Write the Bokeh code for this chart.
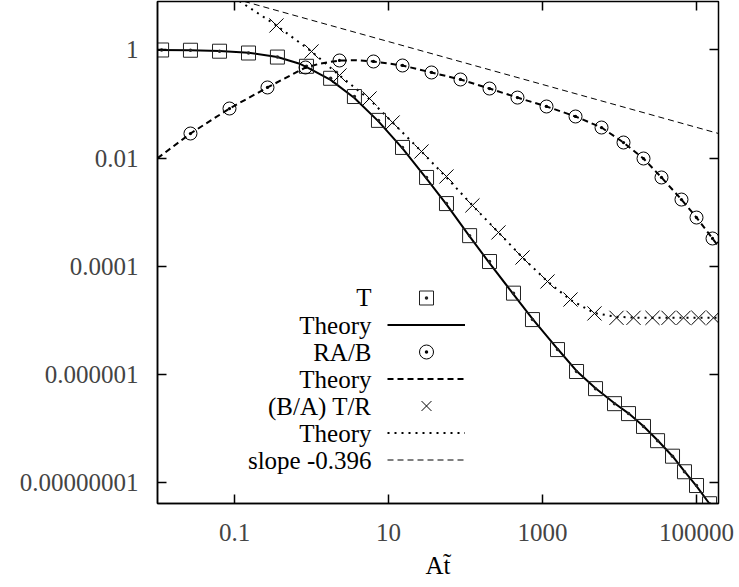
from bokeh.plotting import figure
from bokeh.models import FixedTicker, LogAxis, Legend, LegendItem, Label, Range1d, CustomJSTickFormatter
from bokeh.embed import file_html
from bokeh.resources import INLINE

# ---- data ----
t_x = [0.0113, 0.0268, 0.0639, 0.152, 0.361, 0.861, 1.77, 3.61, 7.41, 15.2, 31.2, 56.6, 113, 205, 420,
       741, 1566, 2766, 4880, 8610, 13090, 20500, 31200, 48800, 69800, 100000, 147600]
t_y = [1.0, 0.99, 0.95, 0.88, 0.74, 0.50, 0.30, 0.138, 0.050, 0.0158, 0.0044, 0.00145, 3.7e-4, 1.23e-4, 3.2e-5,
       1.04e-5, 2.9e-6, 1.14e-6, 5.5e-7, 2.9e-7, 1.9e-7, 1.1e-7, 6.0e-8, 3.1e-8, 1.6e-8, 8.9e-9, 4.1e-9]

t_theory_x = [0.01, 0.0268, 0.0639, 0.152, 0.361, 0.72, 0.97, 1.77, 3.61, 7.41, 15.2, 31.2, 56.6, 113, 205,
              420, 741, 1566, 2766, 4880, 8610, 13090, 20500, 31200, 48800, 69800, 100000, 147600, 171000]
t_theory_y = [1.0, 0.99, 0.96, 0.89, 0.74, 0.55, 0.445, 0.28, 0.13, 0.048, 0.0152, 0.0042, 0.0014, 3.6e-4,
              1.15e-4, 3.05e-5, 1.07e-5, 3.0e-6, 1.17e-6, 5.6e-7, 2.95e-7, 1.92e-7, 1.11e-7, 6.1e-8, 3.1e-8,
              1.62e-8, 8.7e-9, 4.1e-9, 2.95e-9]

rab_x = [0.0268, 0.0861, 0.268, 0.836, 2.31, 6.38, 15.2, 36.2, 86.0, 205, 473, 1127, 2684, 5840, 11270,
         20500, 35100, 63800, 100000, 161400]
rab_y = [0.0286, 0.0829, 0.203, 0.475, 0.640, 0.613, 0.517, 0.384, 0.285, 0.194, 0.132, 0.0903, 0.0590,
         0.0369, 0.0195, 0.00987, 0.00440, 0.00172, 8.0e-4, 3.28e-4]

rab_theory_x = [0.01, 0.0268, 0.0861, 0.268, 0.836, 1.31, 2.31, 3.84, 6.38, 15.2, 36.2, 86, 205, 473, 1127,
                2684, 5840, 11270, 20500, 35100, 63800, 100000, 161400, 195000]
rab_theory_y = [0.01, 0.0286, 0.0829, 0.203, 0.475, 0.563, 0.64, 0.645, 0.613, 0.517, 0.384, 0.285, 0.194,
                0.132, 0.0903, 0.059, 0.0369, 0.0195, 0.00987, 0.0044, 0.00172, 8.0e-4, 3.28e-4, 2.3e-4]

tr_x = [0.351, 1.0, 2.31, 5.67, 11.3, 26.8, 56.6, 123, 268, 550, 1161, 2310,
        4730, 9140, 15200, 26800, 43300, 67800, 106000, 166000]
tr_y = [2.84, 0.94, 0.338, 0.127, 0.0457, 0.0133, 0.00459, 0.00134, 4.24e-4, 1.46e-4, 5.26e-5, 2.44e-5,
        1.35e-5, 1.12e-5, 1.12e-5, 1.12e-5, 1.12e-5, 1.12e-5, 1.12e-5, 1.12e-5]

tr_theory_x = [0.01, 0.113, 0.351, 1.0, 2.31, 5.67, 11.3, 26.8, 56.6, 123, 268, 550, 1161, 2310, 4730, 9140,
               18750, 195000]
tr_theory_y = [78.5, 8.22, 2.84, 0.94, 0.338, 0.122, 0.0457, 0.0133, 0.0044, 0.00134, 4.24e-4, 1.46e-4,
               5.26e-5, 2.4e-5, 1.37e-5, 1.17e-5, 1.12e-5, 1.12e-5]

slope_x = [0.1, 195000]
slope_y = [8.87, 0.0285]

x_ticks = [0.1, 10, 1000, 100000]
x_tick_labels = ["0.1", "10", "1000", "100000"]
y_ticks = [1, 0.01, 0.0001, 0.000001, 0.00000001]
y_tick_labels = ["1", "0.01", "0.0001", "0.000001", "0.00000001"]

legend_labels = ["T", "Theory", "RA/B", "Theory", "(B/A) T/R", "Theory", "slope -0.396"]

FONT = "Liberation Serif"
FS = "25px"

p = figure(width=739, height=587, x_axis_type="log", y_axis_type="log",
           x_range=Range1d(0.01, 193000), y_range=Range1d(4.14e-9, 7.88),
           output_backend="svg", toolbar_location=None,
           min_border_left=157, min_border_right=21, min_border_top=1, min_border_bottom=84)
p.xgrid.visible = False
p.ygrid.visible = False
p.outline_line_color = "black"
p.outline_line_width = 1.5


def label_formatter(tick_values, tick_texts):
    return CustomJSTickFormatter(
        args=dict(tv=tick_values, tl=tick_texts),
        code="""
        let best = 0;
        let bd = Infinity;
        for (let i = 0; i < tv.length; i++) {
            const d = Math.abs(Math.log10(tick) - Math.log10(tv[i]));
            if (d < bd) { bd = d; best = i; }
        }
        return tl[best];
        """)


for ax, ticks, labels in ((p.xaxis[0], x_ticks, x_tick_labels), (p.yaxis[0], y_ticks, y_tick_labels)):
    ax.ticker = FixedTicker(ticks=ticks, minor_ticks=[])
    ax.formatter = label_formatter(ticks, labels)
    ax.major_tick_in = 9
    ax.major_tick_out = 0
    ax.minor_tick_in = 0
    ax.minor_tick_out = 0
    ax.major_tick_line_width = 1.5
    ax.axis_line_width = 1.5
    ax.major_label_text_font = FONT
    ax.major_label_text_font_size = FS
p.yaxis[0].major_label_standoff = 19
p.xaxis[0].major_label_standoff = 20
p.xaxis[0].axis_label = "At\u0303"
p.xaxis[0].axis_label_text_font = FONT
p.xaxis[0].axis_label_text_font_size = FS
p.xaxis[0].axis_label_text_font_style = "normal"
p.xaxis[0].axis_label_text_color = "black"
p.xaxis[0].axis_label_standoff = 8

# mirrored inward ticks on the top and right frame edges
blank = CustomJSTickFormatter(code="return ''")
top = LogAxis(ticker=FixedTicker(ticks=x_ticks, minor_ticks=[]), formatter=blank,
              major_tick_in=9, major_tick_out=0, minor_tick_in=0, minor_tick_out=0,
              major_label_standoff=0, major_tick_line_width=1.5, axis_line_color=None)
right = LogAxis(ticker=FixedTicker(ticks=y_ticks, minor_ticks=[]), formatter=blank,
                major_tick_in=9, major_tick_out=0, minor_tick_in=0, minor_tick_out=0,
                major_label_standoff=0, major_tick_line_width=1.5, axis_line_color=None)
p.add_layout(top, "above")
p.add_layout(right, "right")

# theory lines
l_t = p.line(t_theory_x, t_theory_y, line_color="black", line_width=2)
l_rab = p.line(rab_theory_x, rab_theory_y, line_color="black", line_width=2, line_dash="6 4")
l_tr = p.line(tr_theory_x, tr_theory_y, line_color="black", line_width=2, line_dash="2 5")
l_slope = p.line(slope_x, slope_y, line_color="black", line_width=1, line_dash="6 4")

# points
s_t = p.scatter(t_x, t_y, marker="square_dot", size=14, fill_color=None, line_color="#222222", line_width=1)
s_rab = p.scatter(rab_x, rab_y, marker="circle_dot", size=13, fill_color=None, line_color="black", line_width=1)
s_tr = p.scatter(tr_x, tr_y, marker="x", size=20, line_color="black", line_width=1)

common = dict(padding=0, margin=0, label_standoff=0, label_width=0, label_height=0,
              label_text_font=FONT, label_text_font_size="1px", border_line_color=None,
              background_fill_alpha=0, glyph_width=78)
leg_pts = Legend(items=[LegendItem(label=" ", renderers=[s_t]),
                        LegendItem(label=" ", renderers=[s_rab]),
                        LegendItem(label=" ", renderers=[s_tr])],
                 location=(230, 80.5), glyph_height=35, spacing=19, **common)
leg_lines = Legend(items=[LegendItem(label=" ", renderers=[l_t]),
                          LegendItem(label=" ", renderers=[l_rab]),
                          LegendItem(label=" ", renderers=[l_tr])],
                   location=(230, 57), glyph_height=27, spacing=27, **common)
leg_slope = Legend(items=[LegendItem(label=" ", renderers=[l_slope])],
                   location=(230, 30), glyph_height=27, spacing=0, **common)
for lg in (leg_pts, leg_lines, leg_slope):
    p.add_layout(lg)

row_y = [206, 178.5, 151.5, 124.5, 97.5, 70.5, 43.5]
for txt, yy in zip(legend_labels, row_y):
    p.add_layout(Label(x=214, y=yy, x_units="screen", y_units="screen", text=txt,
                       text_align="right", text_baseline="middle", text_font_style="normal",
                       text_font=FONT, text_font_size=FS, text_color="black"))

open("out.html", "w").write(file_html(p, INLINE))
